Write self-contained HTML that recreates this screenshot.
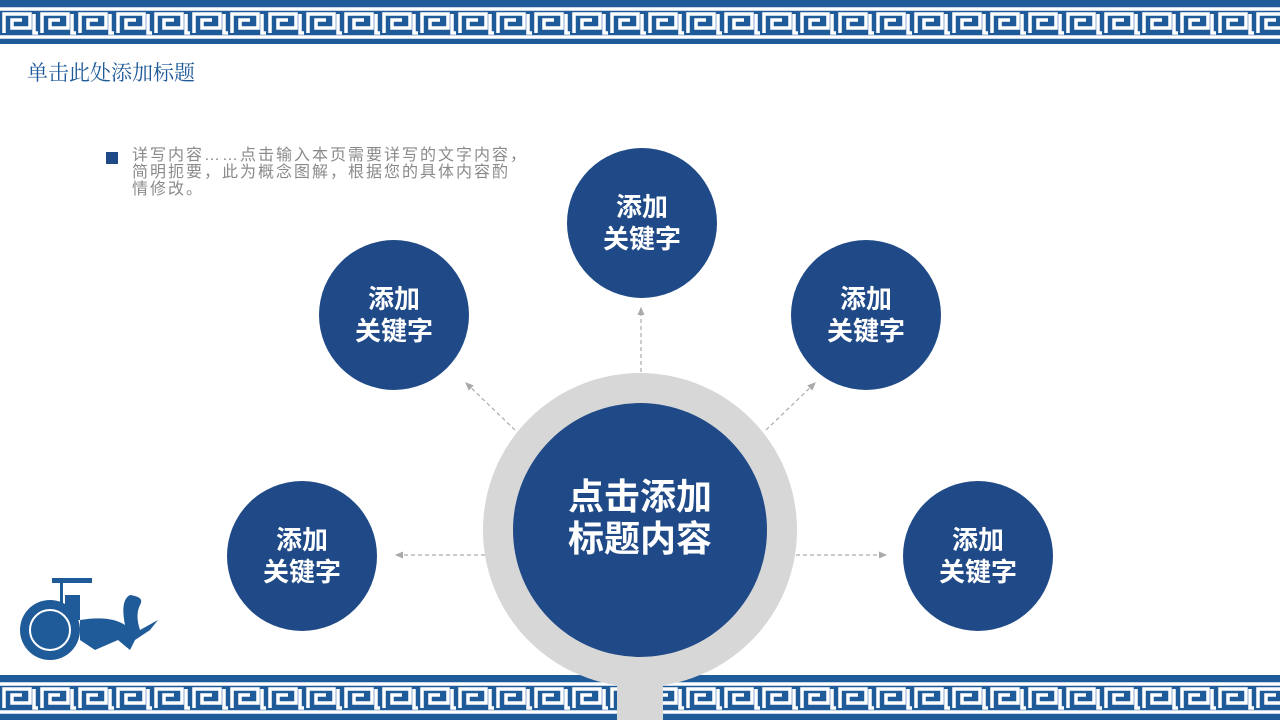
<!DOCTYPE html>
<html><head><meta charset="utf-8"><style>
body{margin:0;width:1280px;height:720px;overflow:hidden;background:#fff;font-family:"Liberation Sans","Noto Sans CJK SC",sans-serif;position:relative}
.c{position:absolute;width:150px;height:150px;border-radius:50%;background:#1f4a87;color:#fff;font-weight:bold;font-size:26px;line-height:32px;display:flex;align-items:center;justify-content:center;text-align:center}
</style></head><body>
<svg width="1280" height="720" style="position:absolute;left:0;top:0">
<defs>
<pattern id="m" x="0" y="0" width="38" height="44" patternUnits="userSpaceOnUse">
<rect width="38" height="44" fill="#1f5a99"/>
<path d="M0 9H38M0 37H38M4 33V14H30V28H12V20H22M34 14V33H38" stroke="#fff" stroke-width="3.5" fill="none"/>
</pattern>
<marker id="a" markerWidth="8" markerHeight="8" refX="6" refY="4" orient="auto"><path d="M0 1L7 4L0 7Z" fill="#aaa"/></marker>
</defs>
<rect x="0" y="0" width="1280" height="44" fill="url(#m)"/>
<g transform="translate(0,675)"><rect x="0" y="0" width="1280" height="45" fill="url(#m)"/></g>
<g stroke="#aaa" stroke-width="1.2" stroke-dasharray="4,3" fill="none" marker-end="url(#a)">
<line x1="641" y1="372" x2="641" y2="308"/>
<line x1="515" y1="430" x2="466" y2="383"/>
<line x1="766" y1="430" x2="815" y2="383"/>
<line x1="485" y1="555" x2="396" y2="555"/>
<line x1="796" y1="555" x2="886" y2="555"/>
</g>
<rect x="617" y="660" width="46" height="60" fill="#d7d7d7"/>
<circle cx="640" cy="530" r="157" fill="#d7d7d7"/>
<circle cx="640" cy="530" r="127" fill="#1f4a87"/>
<g fill="#1f5a99">
<ellipse cx="50" cy="630" rx="30" ry="30"/>
<path d="M80 620Q110 615 125 625Q120 600 130 595Q145 597 140 605Q135 615 140 630L158 620L150 630L135 640L130 650L118 640L95 650L80 640Z"/>
<rect x="60" y="580" width="3" height="30"/><rect x="52" y="578" width="40" height="5"/>
<rect x="65" y="595" width="15" height="25"/>
</g>
<circle cx="50" cy="630" r="20" fill="none" stroke="#fff" stroke-width="2"/>
</svg>
<div style="position:absolute;left:27px;top:57px;font-size:21px;color:#1f5a99;font-family:'Liberation Serif','Noto Serif CJK SC',serif">单击此处添加标题</div>
<div style="position:absolute;left:106px;top:152px;width:12px;height:12px;background:#1f4a87"></div>
<div style="position:absolute;left:132px;top:147px;width:420px;font-size:16px;line-height:17px;letter-spacing:2px;color:#8a8a8a;white-space:nowrap">详写内容……点击输入本页需要详写的文字内容，<br>简明扼要，此为概念图解，根据您的具体内容酌<br>情修改。</div>
<div class="c" style="left:567px;top:148px">添加<br>关键字</div>
<div class="c" style="left:319px;top:240px">添加<br>关键字</div>
<div class="c" style="left:791px;top:240px">添加<br>关键字</div>
<div class="c" style="left:227px;top:481px">添加<br>关键字</div>
<div class="c" style="left:903px;top:481px">添加<br>关键字</div>
<div style="position:absolute;left:513px;top:476px;width:254px;text-align:center;color:#fff;font-weight:bold;font-size:36px;line-height:42px">点击添加<br>标题内容</div>
</body></html>
